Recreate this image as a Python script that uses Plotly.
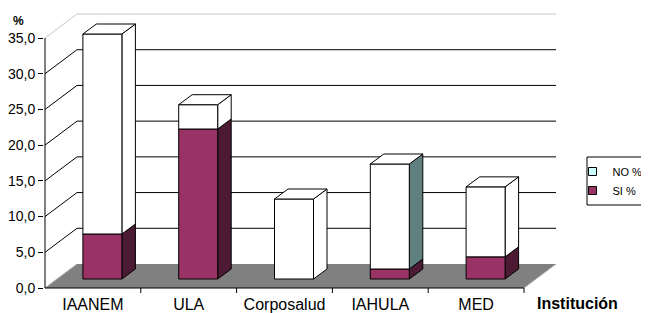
import plotly.graph_objects as go

# ---------------- data ----------------
categories = ["IAANEM", "ULA", "Corposalud", "IAHULA", "MED"]
si_values = [6.3, 21.0, 0.0, 1.4, 3.1]
no_values = [28.0, 3.4, 11.2, 14.7, 9.8]
y_ticks = [0, 5, 10, 15, 20, 25, 30, 35]
series_names = ["NO %", "SI %"]
x_title = "Institución"
y_title = "%"

# ---------------- layout geometry (page pixels) ----------------
W, H = 649, 313
OFF = 8                         # default page body margin
P_L, P_R, P_T, P_B = 44, 560, 8, 295   # plot area in page pixels
ML = P_L - OFF
MT = P_T - OFF
MR = W - (P_R - OFF)
MB = H - (P_B - OFF)
PW, PH = P_R - P_L, P_B - P_T

PX = 95.8            # pixels per category
PY = 250.0 / 35.0    # pixels per value unit
x_min = -1.0 / PX
x_max = x_min + PW / PX
y_min = -7.0 / PY
y_max = y_min + PH / PY

def dx(p):
    return p / PX

def dy(p):
    return p / PY

def paper_x(px):
    return (px - P_L) / PW

def paper_y(py):
    return (P_B - py) / PH

WALL = (dx(32), dy(24))          # depth of the floor / walls
BAR_SHIFT = (dx(9.5), dy(9))     # front face of bars relative to front plane
BAR_DEPTH = (dx(13.5), dy(10))
BAR_W = dx(39)

SI_FRONT, SI_SIDE = "#993366", "#4D1A33"
NO_FRONT, NO_TOP = "#FFFFFF", "#FFFFFF"
NO_SIDE = ["#FFFFFF", "#FFFFFF", "#FFFFFF", "#608080", "#FFFFFF"]
FONT = "Arial, Liberation Sans, sans-serif"

fig = go.Figure()

def poly(xs, ys, fill, line="#000000", lw=1):
    fig.add_trace(go.Scatter(
        x=list(xs) + [xs[0]], y=list(ys) + [ys[0]], mode="lines",
        fill="toself", fillcolor=fill, line=dict(color=line, width=lw),
        hoverinfo="skip", showlegend=False))

def seg(xs, ys, color="#000000", lw=1):
    fig.add_trace(go.Scatter(
        x=xs, y=ys, mode="lines", line=dict(color=color, width=lw),
        hoverinfo="skip", showlegend=False))

n = len(categories)
wx, wy = WALL

# floor
poly([0, n, n + wx, wx], [0, 0, wy, wy], "#808080", line="rgba(0,0,0,0)", lw=0)
seg([0, wx], [0, wy], "#B0B0B0")
seg([n, n + wx], [0, wy], "#B0B0B0")

# gridlines on back wall and left wall
for v in y_ticks[1:]:
    c = "#C8C8C8" if v == y_ticks[-1] else "#000000"
    seg([wx, n + wx], [v + wy, v + wy], c)
    seg([0, wx], [v, v + wy], c)

# axis lines and category boundary ticks
seg([0, 0], [0, y_ticks[-1]])
seg([0, n], [0, 0])
for k in range(1, n + 1):
    seg([k, k], [0, -dy(5)])

# 3-D stacked bars
bx, by = BAR_DEPTH
for i in range(n):
    x0 = i + 0.5 + BAR_SHIFT[0] - BAR_W / 2
    x1 = x0 + BAR_W
    base = BAR_SHIFT[1]
    segments = [(si_values[i], SI_FRONT, SI_SIDE),
                (no_values[i], NO_FRONT, NO_SIDE[i])]
    bottom = 0.0
    for val, fc, sc in segments:
        top = bottom + val
        yb, yt = bottom + base, top + base
        if val > 0:
            poly([x1, x1 + bx, x1 + bx, x1], [yb, yb + by, yt + by, yt], sc)
            poly([x0, x1, x1, x0], [yb, yb, yt, yt], fc)
        bottom = top
    yt = bottom + base
    poly([x0, x1, x1 + bx, x0 + bx], [yt, yt, yt + by, yt + by], NO_TOP)

# legend entries
fig.add_trace(go.Scatter(x=[None], y=[None], mode="markers", name=series_names[0],
                         marker=dict(symbol="square", size=8, color="#CCFFFF",
                                     line=dict(color="#000000", width=1))))
fig.add_trace(go.Scatter(x=[None], y=[None], mode="markers", name=series_names[1],
                         marker=dict(symbol="square", size=8, color=SI_FRONT,
                                     line=dict(color="#000000", width=1))))

fig.update_layout(
    width=W, height=H,
    margin=dict(l=ML, r=MR, t=MT, b=MB, pad=0, autoexpand=False),
    paper_bgcolor="white", plot_bgcolor="white",
    separators=",.",
    font=dict(family=FONT, color="#000000"),
    xaxis=dict(range=[x_min, x_max], showgrid=False, zeroline=False, showline=False,
               tickmode="array", tickvals=[i + 0.5 for i in range(n)], ticktext=categories,
               ticks="", ticklabelstandoff=-2,
               tickfont=dict(size=16, family=FONT), fixedrange=True, automargin=False),
    yaxis=dict(range=[y_min, y_max], showgrid=False, zeroline=False, showline=False,
               tickmode="array", tickvals=y_ticks, tickformat=".1f",
               ticks="outside", ticklen=5, tickcolor="#000000", tickwidth=1,
               tickfont=dict(size=14, family=FONT), fixedrange=True, automargin=False),
    legend=dict(x=paper_x(572.5), y=paper_y(157), xanchor="left", yanchor="top",
                borderwidth=0, bgcolor="rgba(0,0,0,0)",
                font=dict(size=11, family=FONT), traceorder="normal"),
    shapes=[dict(type="rect", xref="paper", yref="paper",
                 x0=paper_x(587), x1=paper_x(643), y0=paper_y(205), y1=paper_y(157),
                 line=dict(color="#000000", width=1), fillcolor="white", layer="below")],
    annotations=[
        dict(text="<b>" + y_title + "</b>", xref="paper", yref="paper",
             x=paper_x(18.5), y=paper_y(21),
             xanchor="center", yanchor="middle", showarrow=False,
             font=dict(size=12, family=FONT)),
        dict(text="<b>" + x_title + "</b>", xref="paper", yref="paper",
             x=paper_x(535), y=0, xanchor="left", yanchor="top",
             yshift=2, showarrow=False, font=dict(size=16, family=FONT)),
    ],
)

fig.write_html("out.html")
